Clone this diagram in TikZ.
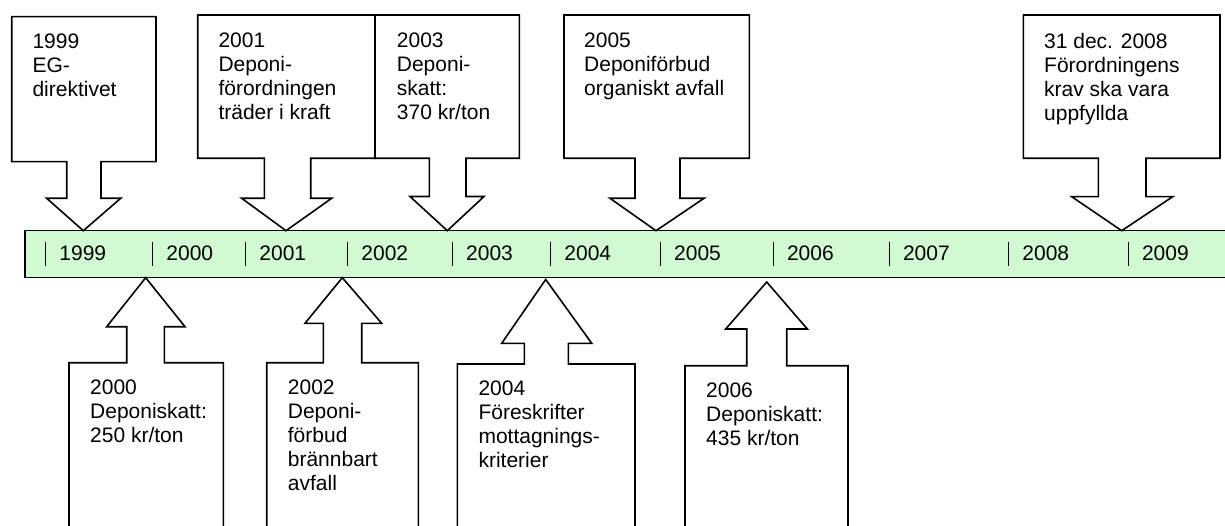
\documentclass[tikz,border=0pt]{standalone}
\usepackage{fontspec}
\setmainfont{Liberation Sans}
\definecolor{barGreen}{RGB}{210,250,210}
\tikzset{
  calloutshape/.style={draw=black, fill=white, line width=1.6pt, line join=miter},
  bartick/.style={draw=black, line width=1.2pt},
  txt/.style={font=\fontsize{21}{24}\selectfont, align=left, inner sep=0pt, anchor=north west},
  yeartxt/.style={font=\fontsize{21}{24}\selectfont, inner sep=0pt, anchor=base west}
}
% #1 L, #2 R, #3 T, #4 B, #5 sL, #6 sR, #7 H, #8 wL, #9 wR ; tip at (\tipx,\tipy)
\newcommand{\downcallout}[9]{%
  \draw[calloutshape] (#1,#3) -- (#2,#3) -- (#2,#4) -- (#6,#4) -- (#6,#7) -- (#9,#7)
    -- (\tipx,\tipy) -- (#8,#7) -- (#5,#7) -- (#5,#4) -- (#1,#4) -- cycle;}
% #1 L, #2 R, #3 T (box top), #4 bottom, #5 sL, #6 sR, #7 H, #8 wL, #9 wR
\newcommand{\upcallout}[9]{%
  \draw[calloutshape] (#1,#4) -- (#1,#3) -- (#5,#3) -- (#5,#7) -- (#8,#7)
    -- (\tipx,\tipy) -- (#9,#7) -- (#6,#7) -- (#6,#3) -- (#2,#3) -- (#2,#4) -- cycle;}
\begin{document}
\begin{tikzpicture}[x=1pt,y=-1pt]
\useasboundingbox (0,0) rectangle (1225,526);
\clip (0,0) rectangle (1225,526);
% timeline bar
\draw[fill=barGreen, line width=1.6pt] (25,230.7) rectangle (1245,277.7);
\foreach \tx/\yr in {45.7/1999,152.7/2000,245.7/2001,347.7/2002,452.5/2003,550.7/2004,660.5/2005,773.3/2006,889.3/2007,1008.7/2008,1128.3/2009}{
  \draw[bartick] (\tx,241.7) -- (\tx,266);
  \node[yeartxt] (y\yr) at (\tx+13.5,260.7) {\yr};
}
% upper callouts
\def\tipx{83.3}\def\tipy{230.7}
\downcallout{11.7}{156}{16.7}{161.7}{66.7}{101}{198.3}{46.7}{120.7}
\def\tipx{286}
\downcallout{197.7}{375}{15}{158.3}{264.3}{310.7}{198.3}{241.7}{331.7}
\def\tipx{447.3}
\downcallout{375}{519.3}{15}{158.3}{429.3}{466}{196.5}{410}{484}
\def\tipx{656}
\downcallout{564}{749.3}{15}{158.3}{635}{680}{198.3}{610}{704}
\def\tipx{1121.7}
\downcallout{1023.3}{1220}{15}{158.3}{1098.3}{1146}{196.7}{1071.7}{1172.7}
% lower callouts (boxes run off the bottom)
\def\tipx{145.7}\def\tipy{277.7}
\upcallout{69}{223.3}{362.7}{545}{126.7}{164.3}{326.7}{106.7}{185}
\def\tipx{342.3}
\upcallout{266.7}{418.3}{362.7}{545}{323.3}{361.7}{323.3}{305}{381.7}
\def\tipx{545.7}\def\tipy{279.5}
\upcallout{457.3}{635}{364}{545}{524.3}{568.3}{343.3}{501.7}{591.7}
\def\tipx{766.7}\def\tipy{282}
\upcallout{685}{848}{365.7}{545}{746.7}{786.7}{329}{725.7}{807.3}
% texts
\node[txt] (t1999) at (32.3,33.3) {1999\\EG-\\direktivet};
\node[txt] (t2001) at (218.3,33) {2001\\Deponi-\\förordningen\\träder i kraft};
\node[txt] (t2003) at (396.7,33) {2003\\Deponi-\\skatt:\\370 kr/ton};
\node[txt] (t2005) at (584,33) {2005\\Deponiförbud\\organiskt avfall};
\node[txt] (t2008) at (1044,32.7) {31 dec. 2008\\Förordningens\\krav ska vara\\uppfyllda};
\node[txt] (t2000) at (90,379.3) {2000\\Deponiskatt:\\250 kr/ton};
\node[txt] (t2002) at (287.7,379.3) {2002\\Deponi-\\förbud\\brännbart\\avfall};
\node[txt] (t2004) at (478.3,381) {2004\\Föreskrifter\\mottagnings-\\kriterier};
\node[txt] (t2006) at (706,382.7) {2006\\Deponiskatt:\\435 kr/ton};
\end{tikzpicture}
\end{document}
